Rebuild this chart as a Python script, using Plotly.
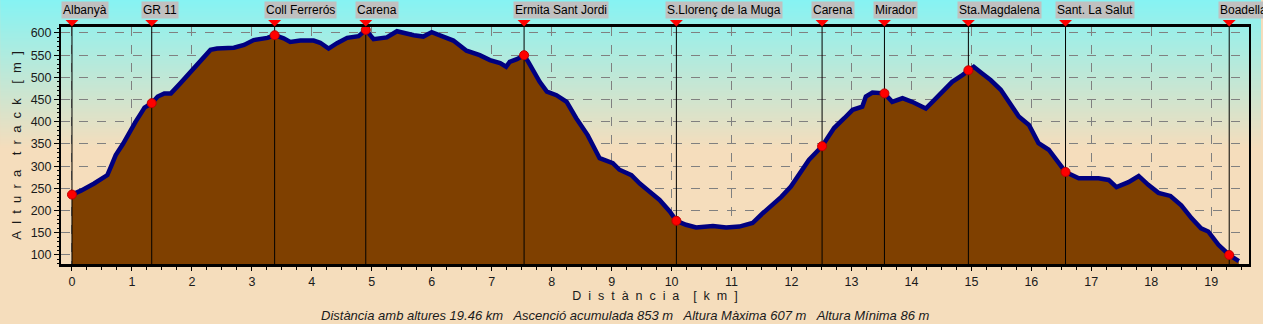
import base64
import struct
import zlib

import plotly.graph_objects as go

# Elevation profile of the track: cumulative distance (km) and altitude (m)
dist_km = [
    0.00, 0.15, 0.37, 0.59, 0.65, 0.73, 0.85, 0.95, 1.06, 1.15,
    1.21, 1.33, 1.43, 1.54, 1.65, 1.81, 2.01, 2.15, 2.31, 2.42,
    2.70, 2.87, 3.03, 3.26, 3.38, 3.53, 3.64, 3.81, 4.03, 4.14,
    4.28, 4.42, 4.59, 4.78, 4.90, 5.03, 5.25, 5.42, 5.56, 5.70,
    5.86, 6.00, 6.19, 6.36, 6.58, 6.80, 6.97, 7.14, 7.24, 7.30,
    7.42, 7.54, 7.61, 7.69, 7.80, 7.92, 8.08, 8.25, 8.41, 8.60,
    8.80, 9.02, 9.13, 9.33, 9.47, 9.63, 9.80, 9.97, 10.08, 10.24,
    10.41, 10.69, 10.91, 11.13, 11.35, 11.52, 11.69, 11.83, 11.99, 12.07,
    12.29, 12.51, 12.71, 12.88, 13.02, 13.18, 13.24, 13.35, 13.46, 13.55,
    13.68, 13.85, 14.01, 14.13, 14.24, 14.38, 14.51, 14.68, 14.85, 14.95,
    15.04, 15.18, 15.32, 15.49, 15.65, 15.79, 15.96, 16.12, 16.29, 16.46,
    16.57, 16.79, 17.12, 17.29, 17.42, 17.62, 17.79, 17.95, 18.12, 18.32,
    18.50, 18.67, 18.83, 18.95, 19.12, 19.30, 19.46,
]
elev_m = [
    236, 245, 261, 280, 299, 325, 350, 375, 400, 419,
    432, 442, 457, 464, 464, 487, 517, 539, 562, 565,
    567, 573, 584, 589, 595, 588, 580, 583, 583, 578,
    565, 577, 589, 593, 607, 586, 590, 604, 599, 595,
    592, 602, 592, 583, 560, 550, 539, 532, 524, 535,
    541, 550, 535, 517, 490, 468, 460, 445, 408, 370,
    318, 307, 292, 280, 261, 243, 224, 198, 177, 168,
    162, 165, 162, 164, 172, 194, 213, 231, 254, 269,
    314, 345, 386, 408, 427, 434, 457, 466, 464, 464,
    445, 453, 445, 438, 430, 449, 468, 490, 505, 516,
    524, 509, 494, 472, 442, 412, 393, 352, 337, 307,
    287, 273, 273, 269, 253, 264, 278, 258, 240, 233,
    212, 183, 160, 153, 123, 100, 86,
]
assert len(dist_km) == len(elev_m)

# Waypoints along the route
wp_names = [
    "Albanyà", "GR 11", "Coll Ferrerós", "Carena", "Ermita Sant Jordi",
    "S.Llorenç de la Muga", "Carena", "Mirador", "Sta.Magdalena",
    "Sant. La Salut", "Boadella",
]
wp_km = [0.00, 1.33, 3.38, 4.90, 7.54, 10.08, 12.51, 13.55, 14.95, 16.57, 19.30]
wp_elev = [236, 442, 595, 607, 550, 177, 345, 464, 516, 287, 100]

# Track summary
total_km = 19.46
ascent_m = 853
max_m = 607
min_m = 86

x_ticks = list(range(0, 20))
y_ticks = list(range(100, 601, 50))

# ---- layout geometry (pixels) ----
W, H = 1263, 324
ML, MR, MT, MB = 61, 12, 27, 60
PW, PH = W - ML - MR, H - MT - MB
X_RANGE = [-0.183, 19.63]
Y_RANGE = [79.7, 613.5]

FONT = "Liberation Sans, Arial, sans-serif"
TXT = "#1a1a1a"
NB = "\u00a0"


def spaced(text, gap=1):
    """Letter-spaced caption: words split by wide gaps, letters by `gap` spaces."""
    sep = NB * gap + " "
    words = [sep.join(w) for w in text.split(" ")]
    return (sep + NB * 2).join(words)


def py_to_paper(py):
    """Figure pixel row -> paper y coordinate."""
    return (H - MB - py) / PH


def gradient_png(height, top, bottom, stop):
    """Vertical background gradient as a small PNG data URI."""
    width = 2
    raw = b""
    for r in range(height):
        t = min(r / stop, 1.0)
        c = bytes(int(round(top[i] + (bottom[i] - top[i]) * t)) for i in range(3))
        raw += b"\x00" + c * width

    def chunk(tag, data):
        body = tag + data
        return struct.pack(">I", len(data)) + body + struct.pack(">I", zlib.crc32(body) & 0xFFFFFFFF)

    png = b"\x89PNG\r\n\x1a\n"
    png += chunk(b"IHDR", struct.pack(">IIBBBBB", width, height, 8, 2, 0, 0, 0))
    png += chunk(b"IDAT", zlib.compress(raw, 9))
    png += chunk(b"IEND", b"")
    return "data:image/png;base64," + base64.b64encode(png).decode()


SKY = (134, 243, 243)
SAND = (245, 221, 188)

fig = go.Figure()

# Terrain fill with the track outline
fig.add_trace(go.Scatter(
    x=dist_km, y=elev_m, mode="lines",
    line=dict(color="#000080", width=4.5),
    fill="tozeroy", fillcolor="#7f4000",
    hoverinfo="skip", showlegend=False,
))

# Vertical waypoint guides
vx, vy = [], []
for k in wp_km:
    vx += [k, k, None]
    vy += [Y_RANGE[0], Y_RANGE[1], None]
fig.add_trace(go.Scatter(
    x=vx, y=vy, mode="lines",
    line=dict(color="black", width=1),
    hoverinfo="skip", showlegend=False,
))

# Waypoint dots on the profile
fig.add_trace(go.Scatter(
    x=wp_km, y=wp_elev, mode="markers",
    marker=dict(color="#ff0000", size=9, line=dict(color="#c00000", width=1)),
    text=wp_names, hoverinfo="text", showlegend=False,
))

shapes = []
annotations = []
tri_half = 6.5 / PW * (X_RANGE[1] - X_RANGE[0])
tri_top = py_to_paper(20)
tri_tip = py_to_paper(26.5)
for name, k in zip(wp_names, wp_km):
    shapes.append(dict(
        type="path", xref="x", yref="paper",
        path=f"M {k - tri_half},{tri_top} L {k + tri_half},{tri_top} L {k},{tri_tip} Z",
        fillcolor="#ff0000", line=dict(width=0), layer="above",
    ))
    annotations.append(dict(
        x=k, y=py_to_paper(10), xref="x", yref="paper",
        text=name, showarrow=False, xanchor="left", yanchor="middle",
        xshift=-11, bgcolor="#c0c0c0", borderpad=1,
        font=dict(family=FONT, size=12, color="black"),
    ))

annotations.append(dict(
    x=(W / 2 - 5 - ML) / PW, y=py_to_paper(315), xref="paper", yref="paper",
    text=(f"<i>Distància amb altures {total_km:.2f} km{NB*2} Ascenció acumulada {ascent_m} m"
          f"{NB*2} Altura Màxima {max_m} m{NB*2} Altura Mínima {min_m} m</i>"),
    showarrow=False, xanchor="center", yanchor="middle",
    font=dict(family=FONT, size=13, color=TXT),
))

fig.update_layout(
    width=W, height=H,
    margin=dict(l=ML, r=MR, t=MT, b=MB, pad=0),
    paper_bgcolor="rgb(%d,%d,%d)" % SAND,
    plot_bgcolor="rgba(0,0,0,0)",
    showlegend=False,
    shapes=shapes,
    annotations=annotations,
    images=[dict(
        source=gradient_png(H, SKY, SAND, 148),
        xref="paper", yref="paper",
        x=-ML / PW, y=py_to_paper(0),
        sizex=W / PW, sizey=H / PH,
        xanchor="left", yanchor="top",
        sizing="stretch", layer="below",
    )],
    xaxis=dict(
        range=X_RANGE, tickvals=x_ticks, ticktext=[str(v) for v in x_ticks],
        showgrid=True, gridcolor="#808080", griddash="dash", gridwidth=1,
        zeroline=False, showline=True, mirror=True, linecolor="black", linewidth=3,
        ticks="outside", ticklen=4, tickcolor="black",
        minor=dict(dtick=0.25, tick0=0, ticks="outside", ticklen=3, tickcolor="black", showgrid=False),
        tickfont=dict(family=FONT, size=12.5, color=TXT),
        title=dict(text=spaced("Distància [km]", gap=1),
                   font=dict(family=FONT, size=12.5, color=TXT), standoff=3),
        layer="below traces", fixedrange=True,
    ),
    yaxis=dict(
        range=Y_RANGE, tickvals=y_ticks, ticktext=[str(v) for v in y_ticks],
        showgrid=True, gridcolor="#808080", griddash="dash", gridwidth=1,
        zeroline=False, showline=True, mirror=True, linecolor="black", linewidth=2,
        ticks="outside", ticklen=5, tickcolor="black",
        minor=dict(dtick=10, tick0=0, ticks="outside", ticklen=2, tickcolor="black", showgrid=False),
        tickfont=dict(family=FONT, size=12.5, color=TXT),
        title=dict(text=spaced("Altura track [m]", gap=1),
                   font=dict(family=FONT, size=13, color=TXT), standoff=6),
        layer="below traces", fixedrange=True,
    ),
)

fig.write_html("out.html")
